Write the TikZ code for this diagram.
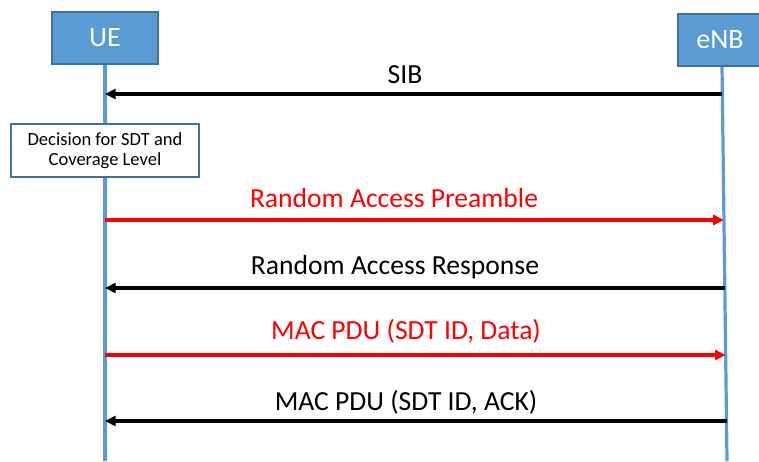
\documentclass[tikz,border=0pt]{standalone}
\usepackage{fontspec}
\setmainfont{Carlito}
\usetikzlibrary{arrows.meta}
\definecolor{boxblue}{RGB}{91,155,213}
\definecolor{boxedge}{RGB}{65,113,156}
\begin{document}
\begin{tikzpicture}[x=0.75pt, y=-0.75pt,
        entitystyle/.style={draw=boxedge, fill=boxblue, thick, text=white, font=\fontsize{21}{25}\selectfont, inner sep=0pt},
        lifestyle/.style={draw=boxblue, line width=2.4pt},
        msgstyle/.style={draw=black, line width=2.8pt, -{Triangle[length=8pt, width=7.5pt]}},
        redstyle/.style={msgstyle, draw=red, fill=red},
        labelstyle/.style={font=\fontsize{20.7}{25}\selectfont, inner sep=0pt, anchor=base}]
        \useasboundingbox (0,0) rectangle (759,461);
        % lifelines
        \coordinate (uetop) at (105,64);
        \coordinate (uebot) at (105,461);
        \coordinate (enbtop) at (722,66);
        \coordinate (enbbot) at (727,461);
        \draw[lifestyle](uetop)--(uebot);
        \draw[lifestyle](enbtop)--(enbbot);
        \node[entitystyle, minimum height=52*0.75pt, text width=106*0.75pt, align=center] (ue) at (105,38) {UE};
        \node[entitystyle, minimum height=52*0.75pt, text width=84*0.75pt, align=center] (enb) at (720,40) {eNB};
        \node[draw=boxedge, fill=white, thick, minimum width=188*0.75pt, minimum height=53*0.75pt, align=center, inner sep=0pt, font=\fontsize{13.9}{15.5}\selectfont] (decision) at (105,150.5) {Decision for SDT and\\Coverage Level};
        % messages
        \coordinate (e1) at (722.4,94);   \coordinate (u1) at (105,94);
        \coordinate (u2) at (105,220);    \coordinate (e2) at (723.9,220);
        \coordinate (e3) at (724.8,288);  \coordinate (u3) at (105,288);
        \coordinate (u4) at (105,355);    \coordinate (e4) at (725.7,355);
        \coordinate (e5) at (726.5,421);  \coordinate (u5) at (105,421);
        \draw[msgstyle](e1)--(u1);
        \draw[redstyle](u2)--(e2);
        \draw[msgstyle](e3)--(u3);
        \draw[redstyle](u4)--(e4);
        \draw[msgstyle](e5)--(u5);
        \node[labelstyle] (sib) at (405,83) {SIB};
        \node[labelstyle, text=red] (rap) at (394,207) {Random Access Preamble};
        \node[labelstyle] (rar) at (395,274) {Random Access Response};
        \node[labelstyle, text=red] (macdata) at (406,339) {MAC PDU (SDT ID, Data)};
        \node[labelstyle] (macack) at (406,410) {MAC PDU (SDT ID, ACK)};
\end{tikzpicture}
\end{document}
